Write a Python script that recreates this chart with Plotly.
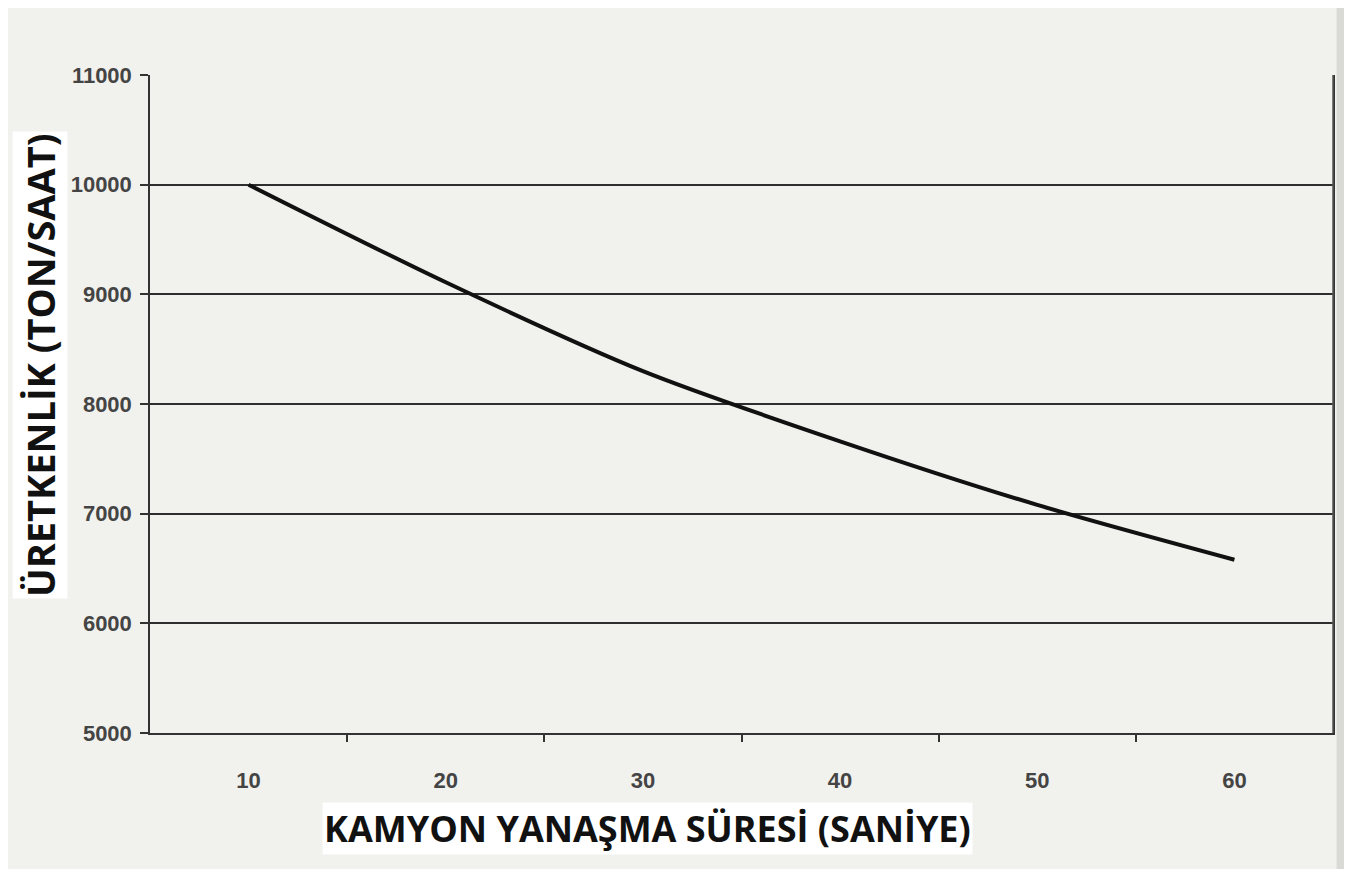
import plotly.graph_objects as go

# Data
kamyon_sure = [10, 20, 30, 40, 50, 60]          # seconds (category positions)
uretkenlik = [10000, 9110, 8300, 7660, 7080, 6580]  # ton/hour
x_tick_labels = ["10", "20", "30", "40", "50", "60"]
y_tick_vals = [5000, 6000, 7000, 8000, 9000, 10000, 11000]
y_tick_labels = ["5000", "6000", "7000", "8000", "9000", "10000", "11000"]

x_title = "KAMYON YANAŞMA SÜRESİ (SANİYE)"
y_title = "ÜRETKENLİK (TON/SAAT)"

bg = "#f1f1ed"
ink = "#2a2a2a"

# target plot box on screen (page has 8px body margin)
L, R, T, B = 150, 1333, 75, 733
W, H = R - L, B - T

fig = go.Figure()
fig.add_trace(go.Scatter(
    x=kamyon_sure, y=uretkenlik, mode="lines",
    line=dict(color="#111111", width=4, shape="spline", smoothing=0.8),
    showlegend=False, hoverinfo="x+y",
))

tickfont = dict(size=22, color="#444444", weight="bold",
                family="Liberation Sans, Arial, sans-serif")

fig.update_layout(
    width=1352, height=869,
    paper_bgcolor=bg, plot_bgcolor=bg,
    margin=dict(l=L - 8, r=1352 - (R - 8), t=T - 8, b=869 - (B - 8)),
    font=dict(family="Liberation Sans, Arial, sans-serif", color=ink),
    xaxis=dict(
        range=[5, 65], tickmode="array", tickvals=kamyon_sure, ticktext=x_tick_labels,
        ticks="", showgrid=False, zeroline=False,
        showline=True, linecolor="#333333", linewidth=1.5, mirror=False,
        tickfont=tickfont,
        ticklabelstandoff=27,
        minor=dict(tickmode="array", tickvals=[15, 25, 35, 45, 55], ticks="outside",
                   ticklen=7, tickcolor="#333333", tickwidth=1.5, showgrid=False),
    ),
    yaxis=dict(
        range=[5000, 11000], tickmode="array", tickvals=y_tick_vals, ticktext=y_tick_labels,
        ticks="outside", ticklen=8, tickcolor="#333333", tickwidth=1.5,
        showgrid=True, gridcolor="#2e2e2e", gridwidth=1.6, zeroline=False,
        showline=True, linecolor="#333333", linewidth=1.5, mirror=True,
        tickfont=tickfont,
        ticklabelstandoff=4,
    ),
)

# right border of the plot frame
fig.add_shape(type="line", xref="paper", yref="paper", x0=1, x1=1, y0=0, y1=1,
              line=dict(color="#555555", width=1.5))
# darker scan edge at the far right
fig.add_shape(type="rect", xref="paper", yref="paper", x0=1.003, x1=1.03, y0=-0.25, y1=1.15,
              fillcolor="#d9d9d5", line=dict(width=0), layer="below")

fig.add_annotation(
    text=f"<b>{x_title}</b>", xref="paper", yref="paper",
    x=(647 - L) / W, y=-(828 - B) / H, xanchor="center", yanchor="middle",
    showarrow=False, font=dict(size=36, color="#111111", family="Open Sans, sans-serif"),
    bgcolor="#ffffff",
)
fig.add_annotation(
    text=f"<b>{y_title}</b>", xref="paper", yref="paper",
    x=-(L - 40) / W, y=(B - 365) / H, xanchor="center", yanchor="middle",
    textangle=-90, showarrow=False,
    font=dict(size=38, color="#111111", family="Open Sans, sans-serif"),
    bgcolor="#ffffff",
)

fig.write_html("out.html")
